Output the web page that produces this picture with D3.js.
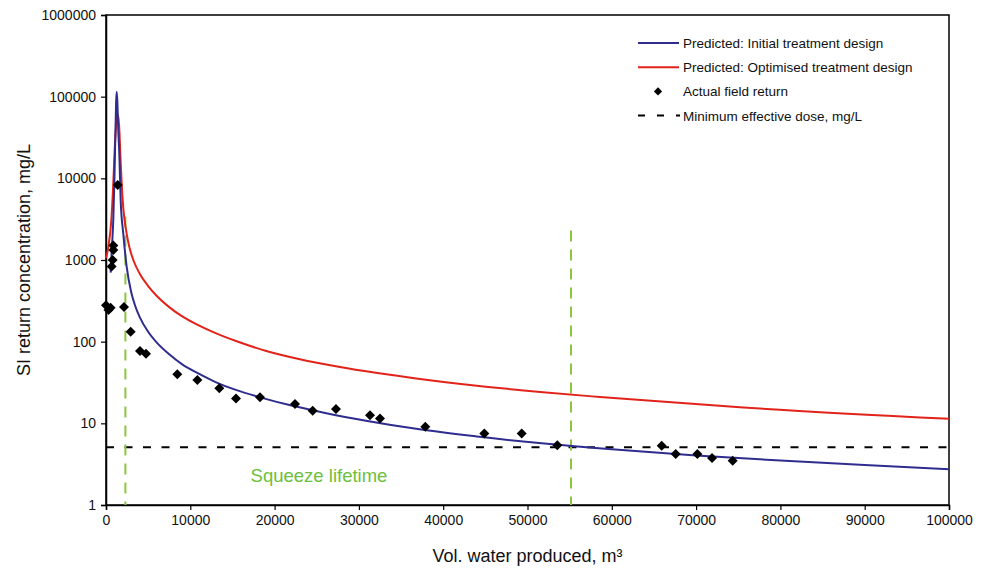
<html>
<head>
<script src="https://d3js.org/d3.v7.min.js"></script>
<style>
  body { margin: 0; background: #fff; }
  text { font-family: Arial, "Liberation Sans", sans-serif; fill: #111; }
</style>
</head>
<body>
<div class="chart"></div>
<script>
// predicted curve, initial treatment design  [volume m3, mg/L]
const initialCurve = [
  [550, 700], [700, 1400], [870, 3200], [1000, 10000], [1100, 30000], [1200, 85000],
  [1270, 115000], [1350, 85000], [1450, 40000], [1580, 20000], [1740, 5400],
  [2050, 2100], [2450, 830], [3000, 400], [3500, 268], [4000, 200], [5000, 132],
  [6000, 98], [7500, 70], [9000, 53], [11000, 40.5], [13000, 32], [15500, 25.5],
  [18500, 20.5], [22000, 16.5], [26000, 13.4], [31000, 10.7], [37000, 8.5],
  [44000, 6.9], [52000, 5.65], [60000, 4.8], [70000, 4.05], [80000, 3.5],
  [90000, 3.08], [100000, 2.74]
];
// predicted curve, optimised treatment design
const optimisedCurve = [
  [0, 1050], [300, 1500], [600, 2800], [850, 8000], [1050, 25000], [1250, 50000],
  [1400, 60000], [1550, 45000], [1750, 15000], [1980, 5400], [2450, 2100],
  [2800, 1400], [3240, 1000], [4000, 680], [5000, 480], [6000, 365], [7500, 265],
  [9000, 205], [11000, 158], [13000, 127], [15500, 101], [19000, 77], [23000, 61],
  [27760, 49], [37250, 35], [51500, 24.2], [58600, 21], [75200, 15.7], [100000, 11.35]
];
// actual field return
const fieldReturn = [
  [0, 280], [300, 245], [550, 260], [670, 830], [790, 1000], [870, 1330], [870, 1500],
  [1390, 8300], [2135, 265], [2930, 132], [4030, 77], [4745, 71], [8460, 40],
  [10840, 34], [13440, 26.8], [15420, 20.2], [18270, 20.8], [22420, 17.2],
  [24520, 14.3], [27280, 15], [31320, 12.6], [32500, 11.5], [37880, 9.1],
  [44880, 7.5], [49310, 7.5], [53540, 5.4], [65920, 5.3], [67580, 4.2],
  [70150, 4.2], [71890, 3.76], [74340, 3.49]
];
const minDose = 5.08;
const lifetimeStart = 2300, lifetimeEnd = 55160;
const lifetimeTop = [3400, 2300];
const xTicks = [0, 10000, 20000, 30000, 40000, 50000, 60000, 70000, 80000, 90000, 100000];
const yTicks = [1, 10, 100, 1000, 10000, 100000, 1000000];

const legendItems = [
  {label: "Predicted: Initial treatment design", type: "line", color: "#2e2d8f"},
  {label: "Predicted: Optimised treatment design", type: "line", color: "#e2231a"},
  {label: "Actual field return", type: "point", color: "#000"},
  {label: "Minimum effective dose, mg/L", type: "dash", color: "#000"}
];

const W = 988, H = 570;
const mLeft = 106, mRight = 949, mTop = 15, mBottom = 505;

const svg = d3.select('.chart').append('svg')
  .attr('width', W).attr('height', H);

const x = d3.scaleLinear().domain([0, 100000]).range([mLeft, mRight]);
const y = d3.scaleLog().domain([1, 1000000]).range([mBottom, mTop]);

// frame
svg.append('rect')
  .attr('x', mLeft).attr('y', mTop)
  .attr('width', mRight - mLeft).attr('height', mBottom - mTop)
  .attr('fill', 'none').attr('stroke', '#000').attr('stroke-width', 1.5);

const xAxis = svg.append('g')
  .attr('transform', `translate(0,${mBottom})`)
  .call(d3.axisBottom(x).tickValues(xTicks).tickSize(5).tickPadding(5).tickFormat(d3.format('d')));
const yAxis = svg.append('g')
  .attr('transform', `translate(${mLeft},0)`)
  .call(d3.axisLeft(y).tickValues(yTicks).tickSize(5).tickPadding(5).tickFormat(d3.format('d')));
[xAxis, yAxis].forEach(g => {
  g.select('.domain').attr('stroke', '#000').attr('stroke-width', 1.5);
  g.selectAll('.tick line').attr('stroke', '#000').attr('stroke-width', 1.2);
  g.selectAll('.tick text').style('font-size', '14px').style('font-family', 'Arial, "Liberation Sans", sans-serif').attr('fill', '#111');
});

// axis titles
svg.append('text')
  .attr('x', (mLeft + mRight) / 2).attr('y', 562)
  .attr('text-anchor', 'middle').style('font-size', '18px')
  .text('Vol. water produced, m³');
svg.append('text')
  .attr('transform', `translate(30,${(mTop + mBottom) / 2}) rotate(-90)`)
  .attr('text-anchor', 'middle').style('font-size', '18px')
  .text('SI return concentration, mg/L');

// minimum effective dose
svg.append('line')
  .attr('x1', x(0)).attr('x2', x(100000))
  .attr('y1', y(minDose)).attr('y2', y(minDose))
  .attr('stroke', '#000').attr('stroke-width', 2)
  .attr('stroke-dasharray', '8,10.5');

// squeeze lifetime markers
svg.selectAll('.life')
  .data([lifetimeStart, lifetimeEnd])
  .join('line')
  .attr('class', 'life')
  .attr('x1', d => x(d)).attr('x2', d => x(d))
  .attr('y1', (d, i) => y(lifetimeTop[i])).attr('y2', mBottom)
  .attr('stroke', '#8cc63f').attr('stroke-width', 2)
  .attr('stroke-dasharray', '11,8');

svg.append('text')
  .attr('x', 319).attr('y', 482)
  .attr('text-anchor', 'middle')
  .style('font-size', '18.5px').style('fill', '#6cbf3c')
  .text('Squeeze lifetime');

const line = d3.line()
  .x(d => x(d[0]))
  .y(d => y(d[1]))
  .curve(d3.curveMonotoneX);

svg.append('path').datum(optimisedCurve)
  .attr('d', line).attr('fill', 'none')
  .attr('stroke', '#e2231a').attr('stroke-width', 2);
svg.append('path').datum(initialCurve)
  .attr('d', line).attr('fill', 'none')
  .attr('stroke', '#2e2d8f').attr('stroke-width', 2);

const diamond = d3.symbol().type(d3.symbolSquare).size(50);
svg.selectAll('.pt')
  .data(fieldReturn)
  .join('path')
  .attr('class', 'pt')
  .attr('d', diamond)
  .attr('transform', d => `translate(${x(d[0])},${y(d[1])}) rotate(45)`)
  .attr('fill', '#000');

// legend
const lg = svg.append('g');
legendItems.forEach((it, i) => {
  const cy = 43 + i * 24.2;
  if (it.type === 'line') {
    lg.append('line').attr('x1', 638).attr('x2', 679).attr('y1', cy).attr('y2', cy)
      .attr('stroke', it.color).attr('stroke-width', 2);
  } else if (it.type === 'point') {
    lg.append('path').attr('d', d3.symbol().type(d3.symbolSquare).size(34))
      .attr('transform', `translate(658,${cy}) rotate(45)`).attr('fill', it.color);
  } else {
    lg.append('line').attr('x1', 638).attr('x2', 680).attr('y1', cy).attr('y2', cy)
      .attr('stroke', it.color).attr('stroke-width', 2).attr('stroke-dasharray', '7,12');
  }
  lg.append('text').attr('x', 683).attr('y', cy + 5)
    .style('font-size', '13.5px').text(it.label);
});
</script>
</body>
</html>
